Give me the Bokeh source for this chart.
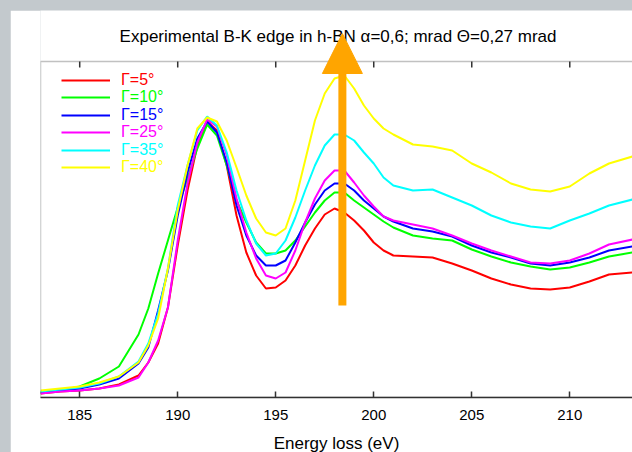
from bokeh.plotting import figure
from bokeh.models import (Range1d, LinearAxis, FixedTicker, Legend, LegendItem, Arrow, NormalHead,
                          BoxAnnotation, Label)
from bokeh.layouts import column
from bokeh.embed import file_html
from bokeh.resources import INLINE

energy = [183, 184, 185, 186, 187, 188, 188.5, 189, 189.5, 190, 190.5, 191, 191.5, 192, 192.5,
          193, 193.5, 194, 194.5, 195, 195.5, 196, 196.5, 197, 197.5, 198, 198.5, 199, 199.5,
          200, 200.5, 201, 202, 203, 204, 205, 206, 207, 208, 209, 210, 211, 212, 213.2]

gamma_5 = [4, 6, 7, 9, 13, 22, 35, 54, 90, 152, 207, 252, 276, 267, 232, 182, 145, 122, 109, 110,
           117, 132, 152, 169, 183, 189, 185, 177, 167, 155, 147, 142, 141, 140, 134, 127, 119, 113,
           109, 108, 110, 116, 123, 125]
gamma_10 = [5, 7, 11, 19, 31, 63, 89, 124, 157, 190, 219, 249, 273, 262, 232, 197, 175, 155, 144, 144,
            147, 157, 171, 185, 197, 205, 205, 197, 190, 183, 176, 170, 162, 159, 157, 148, 141, 135,
            131, 128, 130, 135, 141, 145]
gamma_15 = [5, 7, 9, 13, 19, 34, 50, 87, 127, 182, 225, 259, 276, 265, 235, 192, 162, 142, 132, 132,
            137, 155, 175, 193, 207, 214, 214, 207, 197, 189, 181, 176, 169, 166, 161, 152, 145, 140,
            134, 132, 135, 140, 147, 151]
gamma_25 = [4, 6, 7, 9, 12, 20, 35, 57, 90, 157, 214, 255, 278, 271, 242, 199, 165, 139, 122, 119,
            125, 147, 175, 199, 217, 227, 227, 215, 202, 191, 181, 177, 173, 169, 162, 154, 147, 141,
            135, 134, 137, 144, 153, 158]
gamma_35 = [6, 8, 10, 14, 21, 36, 54, 84, 129, 192, 232, 267, 281, 272, 245, 207, 177, 154, 142, 144,
            157, 180, 207, 232, 252, 263, 263, 257, 245, 234, 220, 212, 207, 208, 200, 192, 182, 175,
            171, 169, 177, 184, 192, 198]
gamma_40 = [7, 9, 11, 15, 21, 35, 52, 79, 129, 187, 232, 269, 280, 276, 257, 230, 202, 179, 165, 162,
            169, 197, 237, 277, 304, 319, 322, 309, 292, 279, 269, 263, 253, 251, 247, 234, 225, 214,
            208, 206, 211, 224, 234, 241]

labels = ["\u0393=5\u00b0", "\u0393=10\u00b0", "\u0393=15\u00b0", "\u0393=25\u00b0", "\u0393=35\u00b0", "\u0393=40\u00b0"]
colors = ["#ff0000", "#00ff00", "#0000ff", "#ff00ff", "#00ffff", "#ffff00"]
series = [gamma_5, gamma_10, gamma_15, gamma_25, gamma_35, gamma_40]
x_ticks = [185, 190, 195, 200, 205, 210]
title_text = "Experimental B-K edge in h-BN \u03b1=0,6; mrad \u0398=0,27 mrad"

x_min, x_max = 183, 213.2
axes_top = 336          # top of the axes box (intensity, a.u.)
canvas_top = 387        # headroom above the axes box for title and arrow head

arrow_x = 198.4
arrow_y0 = 92
arrow_y1 = 364

FONT = "Liberation Sans"
AX = "#333333"

p = figure(width=622, height=448, x_range=Range1d(x_min, x_max), y_range=Range1d(0, canvas_top),
           output_backend="svg", toolbar_location=None, title=None,
           x_axis_location=None, y_axis_location=None,
           min_border_left=30, min_border_right=0, min_border_top=0, min_border_bottom=61)
p.margin = (10, 0, 0, 10)
p.background_fill_color = "white"
p.border_fill_color = "white"
p.outline_line_color = None
p.xgrid.visible = False
p.ygrid.visible = False

bottom = LinearAxis(ticker=FixedTicker(ticks=x_ticks), axis_label="Energy loss (eV)")
bottom.major_tick_in = 6
bottom.major_tick_out = 0
bottom.minor_tick_in = 0
bottom.minor_tick_out = 0
bottom.major_label_standoff = 12
bottom.major_label_text_font = FONT
bottom.major_label_text_font_size = "15px"
bottom.major_label_text_color = "black"
bottom.axis_label_text_font = FONT
bottom.axis_label_text_font_size = "17px"
bottom.axis_label_text_font_style = "normal"
bottom.axis_label_text_color = "black"
bottom.axis_label_standoff = 11
bottom.axis_line_color = AX
bottom.axis_line_width = 1.5
bottom.major_tick_line_color = AX
bottom.major_tick_line_width = 1.5
p.add_layout(bottom, "below")

# axes box (left, top, bottom edges; right edge lies outside the view)
box = BoxAnnotation(left=x_min, right=x_max + 5, bottom=0, top=axes_top,
                    fill_alpha=0, line_color=AX, line_width=1.5)
p.add_layout(box)

# top inward ticks
n = len(x_ticks)
p.segment(x0=x_ticks, y0=[axes_top] * n, x1=x_ticks, y1=[axes_top - 6] * n,
          line_color=AX, line_width=1.5)

renderers = []
for vals, col in zip(series, colors):
    r = p.line(energy, vals, line_color=col, line_width=2)
    renderers.append(r)

legend_bottoms = [308.5, 291, 273.5, 256, 238.5, 221]
for lab, col, r, yb in zip(labels, colors, renderers, legend_bottoms):
    leg = Legend(items=[LegendItem(label=lab, renderers=[r])], location=(21, yb),
                 orientation="vertical", label_text_color=col, label_text_font=FONT,
                 label_text_font_size="16px", border_line_color=None, background_fill_alpha=0,
                 padding=0, margin=0, spacing=0, glyph_width=49, glyph_height=16,
                 label_height=16, label_standoff=11)
    p.add_layout(leg)

title = Label(x=(x_min + 213.36) / 2, y=361.5, text=title_text, text_align="center",
              text_baseline="middle", text_font=FONT, text_font_size="17px", text_color="black")
p.add_layout(title)

arrow = Arrow(x_start=arrow_x, y_start=arrow_y0, x_end=arrow_x, y_end=arrow_y1,
              line_color="#ffa500", line_width=8,
              end=NormalHead(size=40, fill_color="#ffa500", line_color="#ffa500"))
p.add_layout(arrow)

layout = column(p, styles={"background-color": "#c3c9cd"})
open("out.html", "w").write(file_html(layout, INLINE))
